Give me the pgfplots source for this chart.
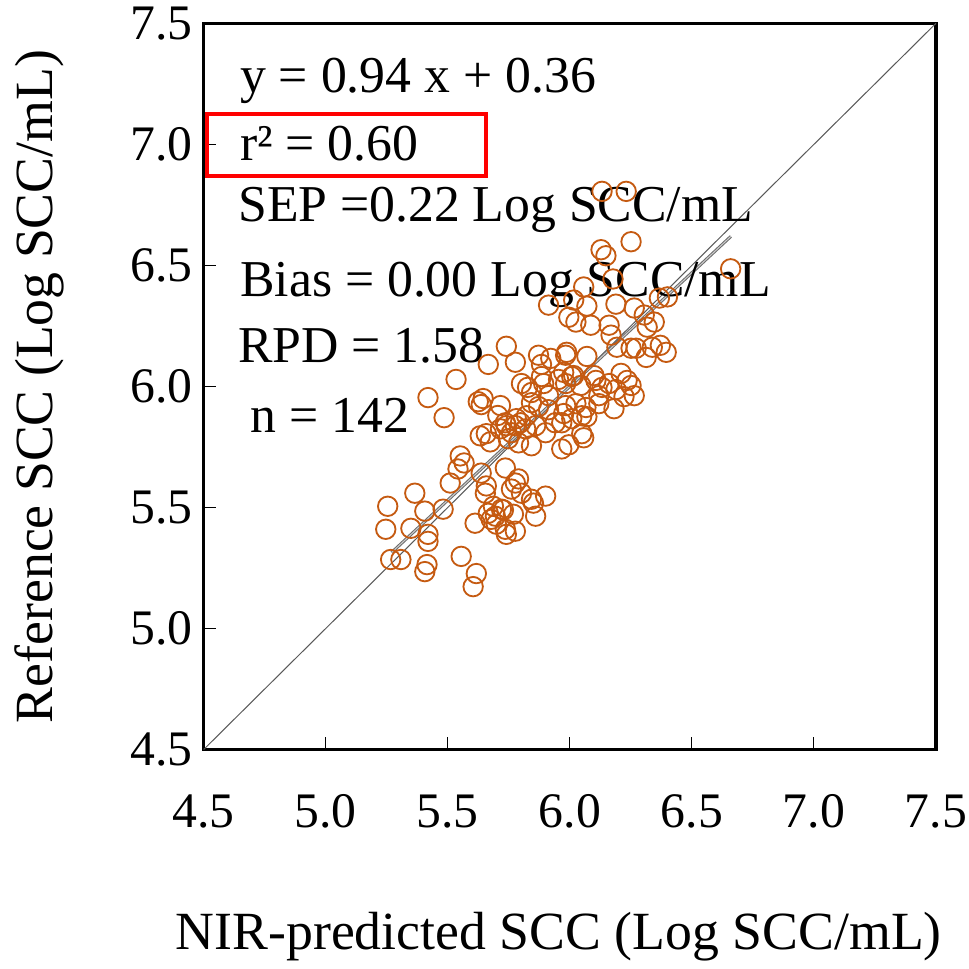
\documentclass[border=0pt]{standalone}
\usepackage{fontspec}
\setmainfont{Liberation Serif}
\usepackage{pgfplots}
\pgfplotsset{compat=1.18}
\definecolor{ptorange}{HTML}{C55A11}

\begin{document}
\begin{tikzpicture}
\begin{axis}[
  scale only axis,
  width=361pt, height=358pt,
  xmin=4.5, xmax=7.5, ymin=4.5, ymax=7.5,
  xtick={4.5,5.0,...,7.5}, ytick={4.5,5.0,...,7.5},
  tick pos=left, tick align=inside,
  major tick length=6pt,
  tick style={black, line width=0.6pt},
  axis line style={black, line width=1.6pt},
  /pgf/number format/assume math mode=true,
  /pgf/number format/.cd, fixed, fixed zerofill, precision=1, /pgfplots/.cd,
  ticklabel style={font=\fontsize{24.5}{28}\selectfont},
  xticklabel style={inner sep=1pt, yshift=-21pt},
  yticklabel style={xshift=-2pt},
  xlabel={NIR-predicted SCC (Log SCC/mL)},
  ylabel={Reference SCC (Log SCC/mL)},
  label style={font=\fontsize{26.5}{30}\selectfont},
  xlabel style={at={(axis description cs:0.485,-0.258)}, anchor=center},
  ylabel style={at={(axis description cs:-0.225,0.5)}, anchor=center, inner sep=7pt},
  clip=false,
]

% 1:1 line
\addplot[gray!70!black, line width=0.5pt] coordinates {(4.5,4.5) (7.5,7.5)};

% regression line y = 0.94x + 0.36
\addplot[gray!85!black, line width=0.5pt, double=gray!40, double distance=0.5pt]
  coordinates {(5.27,5.314) (6.66,6.620)};

% samples
\addplot[only marks, mark=o, mark size=4.8pt, mark options={ptorange, line width=0.9pt}]
coordinates {
(6.132,6.806) (6.231,6.806) (6.251,6.598) (6.128,6.565) (6.148,6.540)
(6.659,6.486) (6.057,6.411) (6.177,6.444) (5.913,6.336) (6.016,6.357)
(6.070,6.332) (6.189,6.340) (6.264,6.324) (6.367,6.365) (6.400,6.370)
(6.305,6.295) (6.346,6.266) (5.996,6.286) (6.025,6.266) (6.086,6.253)
(6.161,6.253) (6.317,6.245) (6.169,6.212) (6.272,6.158) (6.193,6.162)
(6.251,6.158) (6.313,6.120) (6.338,6.162) (6.371,6.170) (6.395,6.141)
(5.987,6.141) (6.070,6.124) (6.016,6.045) (6.099,6.045) (6.210,6.054)
(6.235,6.025) (5.975,6.058) (5.740,6.166) (5.666,6.091) (5.777,6.100)
(5.872,6.129) (5.884,6.091) (5.922,6.116) (5.983,6.129) (5.534,6.029)
(5.419,5.954) (5.485,5.871) (5.625,5.937) (5.645,5.950) (5.637,5.925)
(5.802,6.012) (5.827,5.996) (5.843,5.975) (5.884,6.041) (5.893,6.012)
(5.913,5.962) (5.954,6.029) (5.983,6.012) (6.008,6.041) (6.045,6.004)
(6.107,6.025) (6.132,5.996) (6.119,5.962) (6.161,6.012) (6.189,5.987)
(6.251,6.004) (6.264,5.962) (6.222,5.958) (6.181,5.908) (5.843,5.933)
(5.872,5.917) (5.913,5.904) (5.983,5.921) (6.025,5.929) (6.066,5.913)
(6.119,5.929) (6.070,5.875) (5.975,5.888) (5.967,5.850) (6.008,5.867)
(6.049,5.879) (5.716,5.921) (5.736,5.850) (5.777,5.838) (5.819,5.825)
(5.860,5.838) (5.901,5.809) (5.748,5.784) (5.790,5.767) (5.843,5.755)
(5.967,5.742) (5.996,5.759) (6.049,5.805) (6.057,5.788) (5.633,5.796)
(5.658,5.805) (5.674,5.771) (5.716,5.825) (5.740,5.838) (5.761,5.809)
(5.781,5.867) (5.798,5.850) (5.823,5.879) (5.551,5.713) (5.567,5.684)
(5.736,5.663) (5.542,5.659) (5.637,5.642) (5.654,5.559) (5.777,5.601)
(5.790,5.618) (5.761,5.576) (5.802,5.559) (5.843,5.534) (5.901,5.547)
(5.720,5.493) (5.769,5.472) (5.860,5.464) (5.736,5.410) (5.777,5.402)
(5.510,5.601) (5.365,5.559) (5.254,5.505) (5.406,5.485) (5.481,5.493)
(5.246,5.410) (5.349,5.414) (5.419,5.389) (5.419,5.360) (5.266,5.285)
(5.308,5.285) (5.415,5.264) (5.406,5.235) (5.555,5.298) (5.617,5.227)
(5.604,5.173) (5.612,5.435) (5.666,5.476) (5.695,5.464) (5.687,5.505)
(5.728,5.490) (5.678,5.451) (5.699,5.431) (5.740,5.389) (5.658,5.589)
(5.851,5.518) (5.705,5.880) (5.940,5.850)
};

% statistics
\begin{scope}[every node/.style={anchor=west, inner sep=0pt, font=\fontsize{25.5}{30}\selectfont}]
\node at (axis cs:4.648,7.263) {y = 0.94 x + 0.36};
\node at (axis cs:4.648,7.001) {r² = 0.60};
\node at (axis cs:4.640,6.731) {SEP =0.22 Log SCC/mL};
\node at (axis cs:4.648,6.419) {Bias = 0.00 Log SCC/mL};
\node at (axis cs:4.640,6.170) {RPD = 1.58};
\node at (axis cs:4.690,5.879) {n = 142};
\end{scope}
\draw[red, line width=2pt] (axis cs:4.512,6.868) rectangle (axis cs:5.658,7.126);

\end{axis}
\end{tikzpicture}
\end{document}
